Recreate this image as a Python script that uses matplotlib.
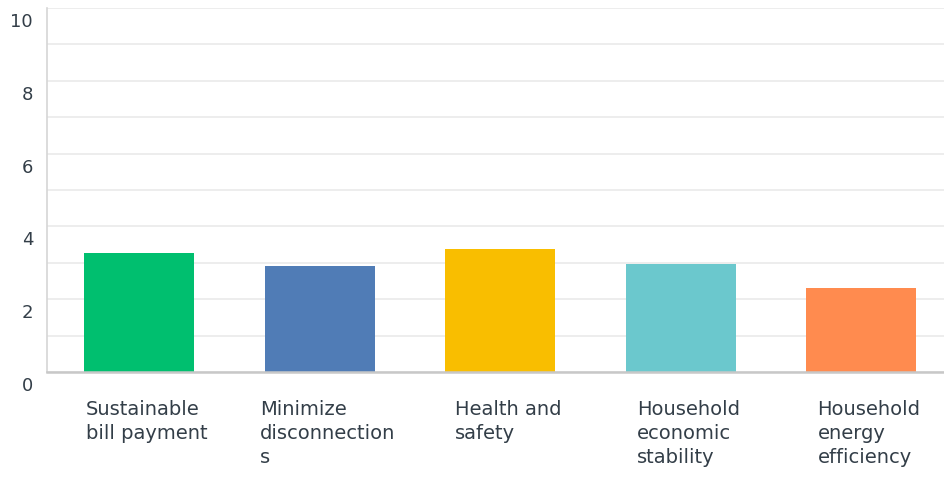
import matplotlib
matplotlib.use("Agg")
import matplotlib.pyplot as plt
from matplotlib.transforms import ScaledTranslation

categories = ["Sustainable\nbill payment", "Minimize\ndisconnection\ns", "Health and\nsafety",
              "Household\neconomic\nstability", "Household\nenergy\nefficiency"]
values = [3.27, 2.91, 3.38, 2.97, 2.31]
colors = ["#00BF6F", "#507CB6", "#F9BE00", "#6BC8CD", "#FF8B4F"]
yticks = [0, 2, 4, 6, 8, 10]

plt.rcParams['font.family'] = ['DejaVu Sans']
text_color = "#333e48"

fig = plt.figure(figsize=(9.45, 4.8), dpi=100)
ax = fig.add_axes([47/945, (480-372)/480, (945-47)/945, (372-8)/480])

x = list(range(len(values)))
ax.bar(x, values, width=0.61, color=colors, zorder=3)

ax.set_xlim(-0.51, 4.465)
ax.set_ylim(0, 10)
for v in range(0, 11):
    ax.axhline(v, color="#ececec", lw=1.3, zorder=1)

ax.set_yticks(yticks)
ax.set_yticklabels([str(t) for t in yticks])
ax.set_xticks(x)
ax.set_xticklabels(categories)

ax.tick_params(axis='y', length=0, pad=10, labelsize=13, labelcolor=text_color)
ax.tick_params(axis='x', length=0, pad=20.5, labelsize=14, labelcolor=text_color)

for lab in ax.get_xticklabels():
    lab.set_multialignment('left')
    lab.set_linespacing(1.31)
    lab.set_transform(lab.get_transform() + ScaledTranslation(8/100, 0, fig.dpi_scale_trans))
for lab in ax.get_yticklabels():
    lab.set_transform(lab.get_transform() + ScaledTranslation(0, -12/100, fig.dpi_scale_trans))

for s in ['top', 'right']:
    ax.spines[s].set_visible(False)
ax.spines['left'].set_color("#d6d6d6")
ax.spines['left'].set_linewidth(1.2)
ax.spines['bottom'].set_color("#c8c8c8")
ax.spines['bottom'].set_linewidth(1.8)
ax.spines['bottom'].set_zorder(4)

fig.savefig("out.png", dpi=100, facecolor="white")
